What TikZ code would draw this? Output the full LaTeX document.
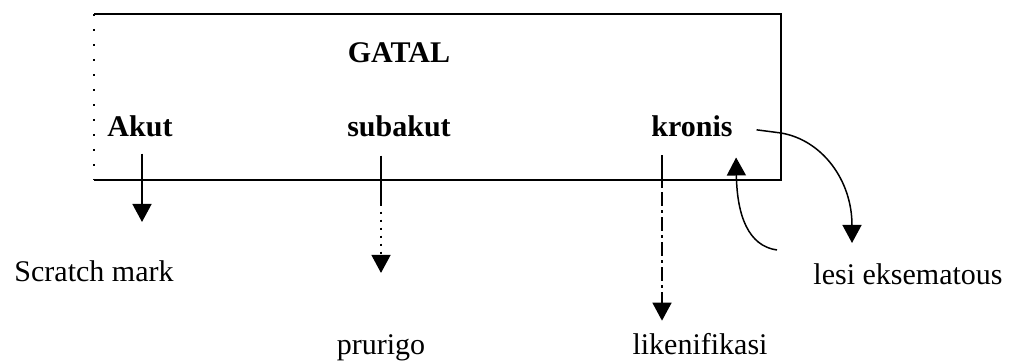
\documentclass[tikz,border=0pt]{standalone}
\usepackage{fontspec}
\setmainfont{Liberation Serif}
\usetikzlibrary{arrows.meta}
\begin{document}
\begin{tikzpicture}[x=1pt,y=-1pt,
  lbl/.style={font=\fontsize{30}{34}\selectfont, inner sep=0pt, anchor=base},
  head/.style={lbl, font=\fontsize{30}{34}\selectfont\bfseries},
  frame/.style={line width=1.5pt},
  link/.style={line width=1.5pt, -{Triangle[width=19pt,length=18pt]}}]
\useasboundingbox (0,0) rectangle (1010,363);

% frame around the three kinds of itch
\coordinate (tl) at (94,14);
\coordinate (tr) at (781,14);
\coordinate (br) at (781,180);
\coordinate (bl) at (94,180);
\draw[frame] (bl) -- (br) -- (tr) -- (tl);
\draw[line width=1.3pt, dash pattern=on 2pt off 13pt] (tl) -- (bl);

% labels
\node[head] (gatal)   at (399,63)  {GATAL};
\node[head] (akut)    at (140,137) {Akut};
\node[head] (subakut) at (399,137) {subakut};
\node[head] (kronis)  at (692,137) {kronis};
\node[lbl]  (scratch) at (94,282)  {Scratch mark};
\node[lbl]  (prurigo) at (381,355) {prurigo};
\node[lbl]  (liken)   at (700,355) {likenifikasi};
\node[lbl]  (lesi)    at (908,285) {lesi eksematous};

% acute: scratch marks
\draw[link, shorten <=16pt, shorten >=39pt]
  ([xshift=2pt]akut.south) -- ([xshift=2pt]akut.south |- scratch.north);

% subacute: prurigo
\draw[link, shorten <=18pt, shorten >=62pt,
  dash pattern=on 50pt off 6pt on 2pt off 6pt on 2pt off 6pt on 2pt off 6pt on 2pt off 6pt on 2pt off 6pt on 2pt off 6pt on 2pt off 6pt]
  (subakut.south -| prurigo.north) -- (prurigo.north);

% chronic: lichenification
\draw[link, shorten <=18pt, shorten >=13pt,
  dash pattern=on 33pt off 4pt on 14pt off 4pt on 3pt off 4pt on 14pt off 4pt on 3pt off 4pt on 14pt off 4pt on 3pt off 4pt on 14pt off 4pt on 3pt off 4pt on 14pt off 4pt on 3pt off 4pt]
  ([xshift=-30pt]kronis.south) -- ([xshift=-30pt]kronis.south |- liken.north);

% chronic <-> eczematous lesion
\coordinate (back) at (777,250);
\draw[link, shorten >=20pt]
  (back) .. controls (748,246) and (737,215) .. ([xshift=3pt]kronis.south east);
\draw[link, shorten <=24pt, shorten >=21pt]
  (kronis.east) -- (781,133) .. controls (822,140) and (852,180) .. ([xshift=-56pt]lesi.north);
\end{tikzpicture}
\end{document}
